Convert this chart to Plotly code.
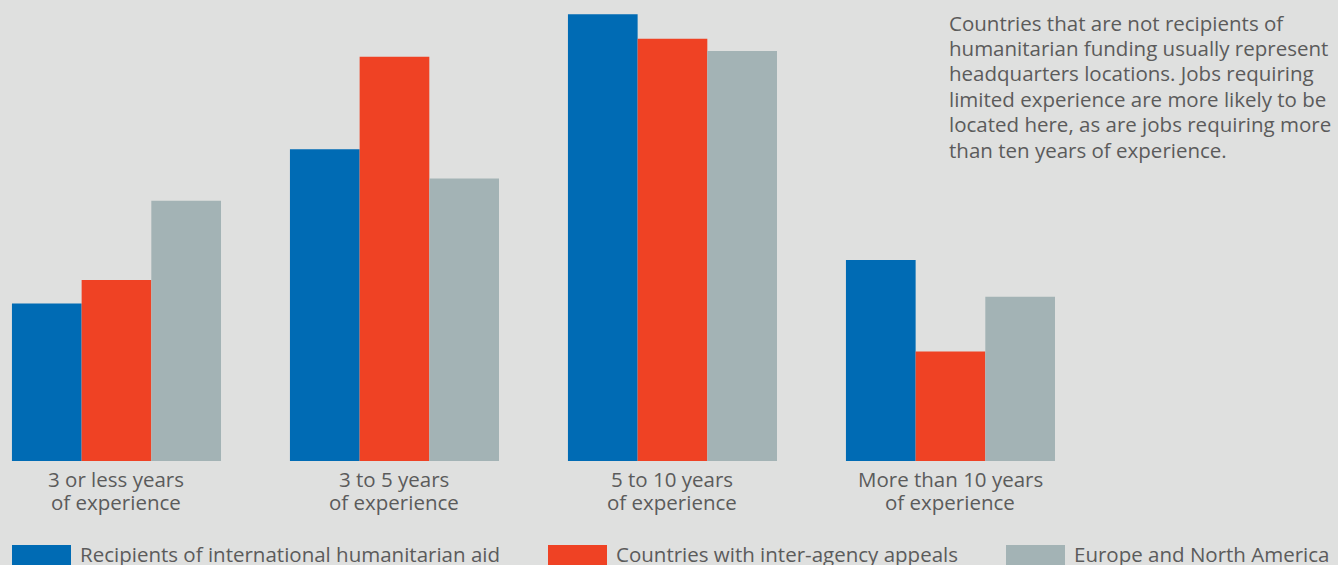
import plotly.graph_objects as go

categories = ["3 or less years<br>of experience", "3 to 5 years<br>of experience",
              "5 to 10 years<br>of experience", "More than 10 years<br>of experience"]
series_names = ["Recipients of international humanitarian aid",
                "Countries with inter-agency appeals",
                "Europe and North America"]
recipients = [14.1, 27.9, 40.0, 18.0]
appeals = [16.2, 36.2, 37.8, 9.8]
europe_na = [23.3, 25.3, 36.7, 14.7]
colors = ["#006bb4", "#ef4224", "#a3b3b5"]
note_lines = ["Countries that are not recipients of",
              "humanitarian funding usually represent",
              "headquarters locations. Jobs requiring",
              "limited experience are more likely to be",
              "located here, as are jobs requiring more",
              "than ten years of experience."]

W, H = 1338, 565
BG = "#dfe0df"
TXT = "#5b5b5b"
FONT = "Open Sans"
FS = 20.5

fig = go.Figure()
xs = list(range(len(categories)))
for name, vals, c in zip(series_names, [recipients, appeals, europe_na], colors):
    fig.add_trace(go.Bar(x=xs, y=vals, name=name, marker=dict(color=c, line=dict(width=0)),
                         showlegend=False))

plot_h = 461


def py(px):
    """pixel y from top of figure -> paper coordinate"""
    return (plot_h - px) / plot_h


fig.update_layout(
    width=W, height=H,
    paper_bgcolor=BG, plot_bgcolor=BG,
    margin=dict(l=0, r=0, t=0, b=H - plot_h, pad=0),
    barmode="group", bargap=0.248, bargroupgap=0,
    font=dict(family=FONT, color=TXT, size=FS),
    xaxis=dict(range=[-0.419, 4.394], tickmode="array", tickvals=xs,
               ticktext=[""] * len(xs),
               showgrid=False, zeroline=False, showline=False, ticks=""),
    yaxis=dict(range=[0, 41.27], visible=False, showgrid=False, zeroline=False),
)

# category labels (two lines each)
for xi, cat in zip(xs, categories):
    for li, line in enumerate(cat.split("<br>")):
        fig.add_annotation(xref="x", yref="paper", x=xi, y=py(478.5 + 23.5 * li),
                           xanchor="center", yanchor="middle", showarrow=False,
                           borderpad=0, text=line,
                           font=dict(size=FS, color=TXT, family=FONT))

# side note
for li, line in enumerate(note_lines):
    fig.add_annotation(xref="paper", yref="paper", x=948 / W, y=py(22.5 + 25.4 * li),
                       xanchor="left", yanchor="middle", showarrow=False,
                       borderpad=0, text=line,
                       font=dict(size=FS, color=TXT, family=FONT))

# legend
leg_x = [12, 548, 1006]
sq_w = 59
for lx, name, c in zip(leg_x, series_names, colors):
    fig.add_shape(type="rect", xref="paper", yref="paper",
                  x0=lx / W, x1=(lx + sq_w) / W,
                  y0=py(566), y1=py(545),
                  fillcolor=c, line=dict(width=0))
    fig.add_annotation(xref="paper", yref="paper", x=(lx + sq_w + 7) / W,
                       y=py(554), xanchor="left", yanchor="middle",
                       showarrow=False, text=name,
                       font=dict(size=FS, color=TXT, family=FONT))

fig.write_html("out.html", config={"displayModeBar": False},
               post_script="document.body.style.margin='0';document.body.style.overflow='hidden';")
